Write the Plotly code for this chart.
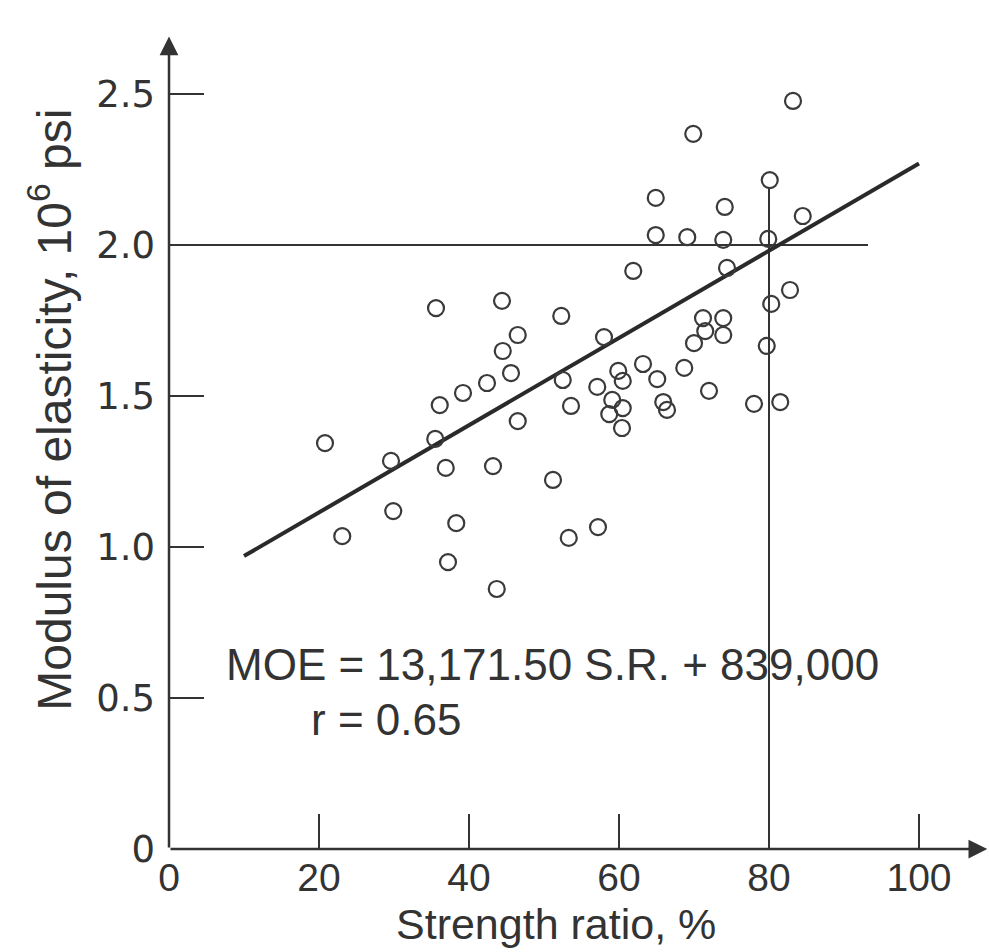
import plotly.graph_objects as go

# ---- data ----
strength_ratio = [20.8, 23.1, 29.6, 29.9, 35.6, 36.1, 35.5, 36.9, 37.2, 38.3,
                  39.2, 42.4, 43.2, 43.7, 44.4, 44.5, 45.6, 46.5, 46.5, 51.2,
                  52.3, 52.5, 53.6, 53.3, 57.2, 57.1, 58.0, 58.7, 59.1, 59.9,
                  60.4, 60.5, 60.5, 61.9, 63.2, 64.9, 64.9, 65.1, 65.9, 66.4,
                  68.7, 69.1, 69.9, 70.0, 71.2, 71.5, 72.0, 73.9, 73.9, 74.1,
                  73.9, 74.4, 78.0, 79.7, 80.1, 79.9, 80.3, 81.5, 82.8, 83.2,
                  84.5]
moe = [1.344, 1.036, 1.285, 1.119, 1.791, 1.470, 1.358, 1.262, 0.950, 1.079,
       1.510, 1.543, 1.268, 0.861, 1.815, 1.649, 1.576, 1.702, 1.417, 1.222,
       1.765, 1.553, 1.467, 1.030, 1.066, 1.530, 1.695, 1.440, 1.487, 1.583,
       1.394, 1.460, 1.550, 1.914, 1.606, 2.156, 2.033, 1.556, 1.480, 1.454,
       1.593, 2.026, 2.368, 1.675, 1.758, 1.715, 1.517, 1.758, 1.702, 2.126,
       2.017, 1.924, 1.474, 1.666, 2.215, 2.020, 1.805, 1.480, 1.851, 2.477,
       2.096]

reg_x = [10, 100]
reg_y = [0.97, 2.27]

hline_x = [0, 93.2]
hline_y = [2.0, 2.0]
vline_x = [80, 80]
vline_y = [0, 2.19]

x_ticks = [0, 20, 40, 60, 80, 100]
x_tick_labels = ["0", "20", "40", "60", "80", "100"]
y_ticks = [0, 0.5, 1.0, 1.5, 2.0, 2.5]
y_tick_labels = ["0", "0.5", "1.0", "1.5", "2.0", "2.5"]

x_title = "Strength ratio, %"
y_title = "Modulus of elasticity, 10<sup>6</sup> psi"
equation_text = "MOE = 13,171.50 S.R. + 839,000"
r_text = "r = 0.65"

INK = "#333333"
FONT = "Liberation Sans, Arial, Helvetica, sans-serif"
WIDE = "DejaVu Sans, Verdana, sans-serif"

fig = go.Figure()

fig.add_trace(go.Scatter(x=hline_x, y=hline_y, mode="lines",
                         line=dict(color=INK, width=2), cliponaxis=False,
                         hoverinfo="skip", showlegend=False))
fig.add_trace(go.Scatter(x=vline_x, y=vline_y, mode="lines",
                         line=dict(color=INK, width=2), cliponaxis=False,
                         hoverinfo="skip", showlegend=False))
fig.add_trace(go.Scatter(x=reg_x, y=reg_y, mode="lines",
                         line=dict(color="#2a2a2a", width=4), cliponaxis=False,
                         showlegend=False))
fig.add_trace(go.Scatter(x=strength_ratio, y=moe, mode="markers",
                         marker=dict(symbol="circle-open", size=16, color="#3a3a3a",
                                     line=dict(width=2.2, color="#3a3a3a")),
                         cliponaxis=False, showlegend=False))

# axes drawn as arrows
fig.add_annotation(x=0, y=2.69, ax=0, ay=0, xref="x", yref="y", axref="x", ayref="y",
                   text="", showarrow=True, arrowhead=2, arrowsize=1.5,
                   arrowwidth=2.5, arrowcolor=INK, standoff=0, startstandoff=0)
fig.add_annotation(x=109.1, y=0, ax=0, ay=0, xref="x", yref="y", axref="x", ayref="y",
                   text="", showarrow=True, arrowhead=2, arrowsize=1.5,
                   arrowwidth=2.5, arrowcolor=INK, standoff=0, startstandoff=0)

fig.add_annotation(x=7.3, y=0.61, xref="x", yref="y", text=equation_text,
                   showarrow=False, xanchor="left", yanchor="middle",
                   font=dict(family=FONT, size=44, color=INK))
fig.add_annotation(x=18.7, y=0.43, xref="x", yref="y", text=r_text,
                   showarrow=False, xanchor="left", yanchor="middle",
                   font=dict(family=FONT, size=44, color=INK))

fig.add_annotation(x=0.472, y=-0.091, xref="paper", yref="paper", text=x_title,
                   showarrow=False, xanchor="center", yanchor="middle",
                   font=dict(family=FONT, size=43, color=INK))
fig.add_annotation(x=-0.145, y=0.53, xref="paper", yref="paper", text=y_title,
                   showarrow=False, textangle=-90, xanchor="center", yanchor="middle",
                   font=dict(family=FONT, size=48, color=INK))

fig.update_xaxes(range=[0, (989 - 169) / 7.5], tickvals=x_ticks, ticktext=x_tick_labels,
                 ticks="inside", ticklen=35, tickwidth=2, tickcolor=INK,
                 showgrid=False, zeroline=False, showline=False,
                 ticklabelstandoff=2,
                 tickfont=dict(family=FONT, size=39, color=INK))
fig.update_yaxes(range=[0, (849 - 20) / 302], tickvals=y_ticks, ticktext=y_tick_labels,
                 ticks="inside", ticklen=35, tickwidth=2, tickcolor=INK,
                 showgrid=False, zeroline=False, showline=False,
                 ticklabelstandoff=13,
                 tickfont=dict(family=WIDE, size=37, color=INK))

fig.update_layout(width=989, height=952,
                  margin=dict(l=169, r=0, t=20, b=103, autoexpand=False),
                  plot_bgcolor="white", paper_bgcolor="white",
                  showlegend=False)

fig.write_html("out.html")
